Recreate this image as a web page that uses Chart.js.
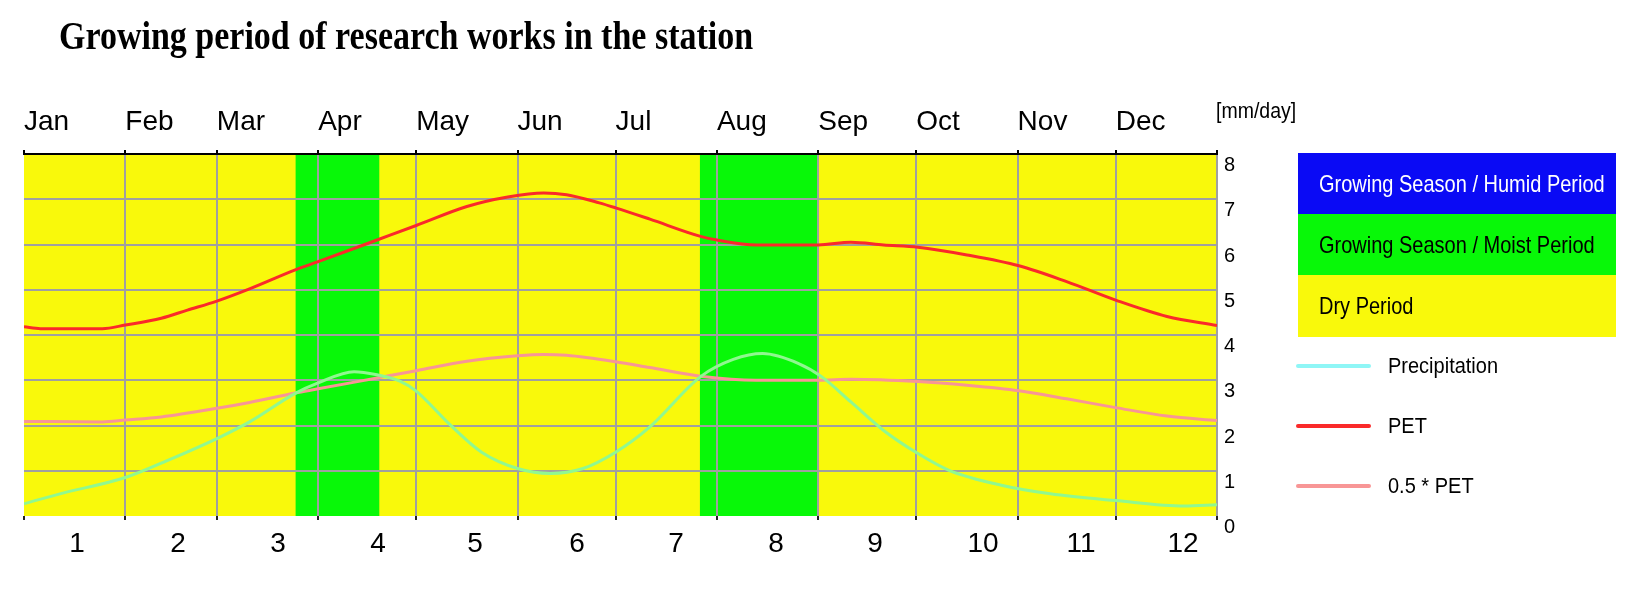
<!DOCTYPE html>
<html>
<head>
<meta charset="utf-8">
<script src="https://cdn.jsdelivr.net/npm/chart.js@4.4.0/dist/chart.umd.min.js"></script>
<style>
html,body{margin:0;padding:0;background:#fff;overflow:hidden}
#wrap{position:relative;width:1636px;height:597px}
</style>
</head>
<body>
<div id="wrap"><canvas id="c" width="1636" height="597"></canvas></div>
<script>
// ---------- data ----------
const chartTitle = 'Growing period of research works in the station';
const unitLabel = '[mm/day]';
const monthNames = ['Jan','Feb','Mar','Apr','May','Jun','Jul','Aug','Sep','Oct','Nov','Dec'];
const monthStartDays = [0,31,59,90,120,151,181,212,243,273,304,334,365];
const periodLabels = ['1','2','3','4','5','6','7','8','9','10','11','12'];
const periodLabelDays = [16.2,47.1,77.7,108.3,138.0,169.2,199.5,230.1,260.4,293.4,323.4,354.6];
const yMin = 0, yMax = 8, yStep = 1;

const precipDays   = [0,11,31,44,59,69,83,90,101,108,115,120,130,140,151,161,171,181,191.5,207,217,226,237,244,253,263,273.5,283,299,314,334,355,365];
const precipValues = [0.27,0.49,0.85,1.23,1.71,2.08,2.71,2.94,3.19,3.12,2.98,2.76,2.04,1.41,1.05,0.94,1.05,1.41,1.97,3.08,3.46,3.59,3.37,3.08,2.52,1.89,1.38,1.01,0.68,0.49,0.34,0.22,0.25];

const petDays   = [0,5,24,31,42,50,59,69,83,90,108,120,135.5,148,159,166,176,181,191.5,207,212,224,243,253,263,273.5,288.5,304.4,319,334.4,349.7,365];
const petValues = [4.18,4.14,4.14,4.22,4.37,4.55,4.75,5.02,5.44,5.62,6.10,6.42,6.84,7.05,7.14,7.10,6.92,6.81,6.56,6.18,6.10,5.99,5.99,6.05,5.99,5.94,5.77,5.53,5.18,4.76,4.41,4.21];

const halfPetDays   = [0,24,31,42,59,69,83,90,108,120,135.5,151,159,166,181,191.5,207,224,243,253,273.5,288.5,304.4,319,334.4,349.7,365];
const halfPetValues = [2.09,2.08,2.12,2.19,2.38,2.51,2.72,2.81,3.05,3.21,3.42,3.54,3.57,3.55,3.41,3.28,3.09,3.00,3.00,3.02,2.97,2.89,2.77,2.59,2.39,2.21,2.11];

const bandStartDays = [83.1, 206.8];
const bandEndDays   = [108.7, 242.9];

const periodNames  = ['Growing Season / Humid Period','Growing Season / Moist Period','Dry Period'];
const seriesNames  = ['Precipitation','PET','0.5 * PET'];

// ---------- styles ----------
const COL_DRY = '#f9f90b', COL_MOIST = '#08f808', COL_HUMID = '#0a0af5';
const COL_GRID = '#a0a0a0';
const COL_PRECIP = '#90f890', COL_PRECIP_KEY = '#8ff6f6', COL_PET = '#fa2a2a', COL_HALF = '#f89696';
const SANS = '"Liberation Sans", Arial, sans-serif';

const toXY = (xs, ys) => xs.map((x, i) => ({x, y: ys[i]}));

function stretchedText(ctx, text, x, y, font, color, sy) {
  ctx.save();
  ctx.font = font; ctx.fillStyle = color;
  ctx.textAlign = 'left'; ctx.textBaseline = 'alphabetic';
  ctx.translate(x, y); ctx.scale(1, sy);
  ctx.fillText(text, 0, 0);
  ctx.restore();
}

const backgroundPlugin = {
  id: 'periodBands',
  beforeDraw(chart) {
    const {ctx, chartArea: a, scales} = chart;
    const xs = scales.xTop;
    ctx.save();
    ctx.fillStyle = COL_DRY;
    ctx.fillRect(a.left, a.top, a.right - a.left, a.bottom - a.top);
    ctx.fillStyle = COL_MOIST;
    bandStartDays.forEach((s, i) => {
      const x1 = xs.getPixelForValue(s), x2 = xs.getPixelForValue(bandEndDays[i]);
      ctx.fillRect(x1, a.top, x2 - x1, a.bottom - a.top);
    });
    ctx.restore();
  }
};

const textPlugin = {
  id: 'texts',
  afterDraw(chart) {
    const {ctx, chartArea: a} = chart;
    stretchedText(ctx, chartTitle, 59, 49, 'bold 34px "Liberation Serif", "Times New Roman", serif', '#000', 1.2);
    stretchedText(ctx, unitLabel, a.right - 1, 118, '19.5px ' + SANS, '#000', 1.15);
    const bx = 1298, bw = 318, bh = 61, by0 = 153;
    const blockFill = [COL_HUMID, COL_MOIST, COL_DRY];
    const blockText = ['#ffffff', '#000000', '#000000'];
    periodNames.forEach((name, i) => {
      const y = by0 + i * bh;
      ctx.fillStyle = blockFill[i];
      ctx.fillRect(bx, y, bw, bh + (i === 2 ? 1 : 0));
      stretchedText(ctx, name, 1319, y + 39, '20px ' + SANS, blockText[i], 1.2);
    });
    const lineCols = [COL_PRECIP_KEY, COL_PET, COL_HALF];
    seriesNames.forEach((name, i) => {
      const y = 366 + i * 60;
      ctx.save();
      ctx.strokeStyle = lineCols[i]; ctx.lineWidth = 4; ctx.lineCap = 'round';
      ctx.beginPath(); ctx.moveTo(1298, y); ctx.lineTo(1369, y); ctx.stroke();
      ctx.restore();
      stretchedText(ctx, name, 1388, y + 6.5, '20px ' + SANS, '#000', 1.12);
    });
  }
};

const lineDS = (label, data, color) => ({
  label, data, borderColor: color, backgroundColor: color, borderWidth: 3,
  pointRadius: 0, fill: false, cubicInterpolationMode: 'monotone',
  xAxisID: 'xTop', yAxisID: 'y'
});

const transparentAtZero = (ctx) => (ctx.tick && ctx.tick.value === 0) ? 'rgba(0,0,0,0)' : COL_GRID;

new Chart(document.getElementById('c'), {
  type: 'line',
  data: {
    datasets: [
      lineDS(seriesNames[0], toXY(precipDays, precipValues), COL_PRECIP),
      lineDS(seriesNames[1], toXY(petDays, petValues), COL_PET),
      lineDS(seriesNames[2], toXY(halfPetDays, halfPetValues), COL_HALF)
    ]
  },
  options: {
    responsive: false, animation: false, devicePixelRatio: 1,
    layout: {padding: {left: 24, right: 0, top: 0, bottom: 0}},
    plugins: {legend: {display: false}, title: {display: false}, tooltip: {enabled: false}},
    scales: {
      xTop: {
        type: 'linear', position: 'top', min: 0, max: 365,
        afterBuildTicks: s => { s.ticks = monthStartDays.map(v => ({value: v})); },
        afterFit: s => { s.height = 154; },
        ticks: {
          autoSkip: false, maxRotation: 0, minRotation: 0, align: 'start', padding: 11,
          color: '#000', font: {size: 28, family: SANS},
          callback: (v, i) => monthNames[i] !== undefined ? monthNames[i] : ''
        },
        grid: {color: transparentAtZero, lineWidth: 2, drawTicks: true, tickLength: 4, tickColor: '#000', tickWidth: 2},
        border: {display: true, color: '#000', width: 2}
      },
      xTick: {
        type: 'linear', position: 'bottom', min: 0, max: 365, weight: 0,
        afterBuildTicks: s => { s.ticks = monthStartDays.map(v => ({value: v})); },
        afterFit: s => { s.height = 4; },
        ticks: {autoSkip: false, maxRotation: 0, padding: 0, font: {size: 2}, callback: () => ''},
        grid: {display: true, drawOnChartArea: false, drawTicks: true, tickLength: 4, tickColor: '#222', tickWidth: 2, lineWidth: 2},
        border: {display: false}
      },
      xNum: {
        type: 'linear', position: 'bottom', min: 0, max: 365, weight: 1,
        afterBuildTicks: s => { s.ticks = periodLabelDays.map(v => ({value: v})); },
        afterFit: s => { s.height = 77; },
        ticks: {
          autoSkip: false, maxRotation: 0, minRotation: 0, padding: 7,
          color: '#000', font: {size: 28, family: SANS},
          callback: (v, i) => periodLabels[i]
        },
        grid: {display: false, drawTicks: false},
        border: {display: false}
      },
      y: {
        type: 'linear', position: 'right', min: yMin, max: yMax,
        afterFit: s => { s.width = 419; },
        ticks: {stepSize: yStep, padding: 7, labelOffset: 11.5, color: '#000', font: {size: 20, family: SANS}},
        grid: {color: transparentAtZero, lineWidth: 2, drawTicks: false},
        border: {display: false}
      }
    }
  },
  plugins: [backgroundPlugin, textPlugin]
});
</script>
</body>
</html>
